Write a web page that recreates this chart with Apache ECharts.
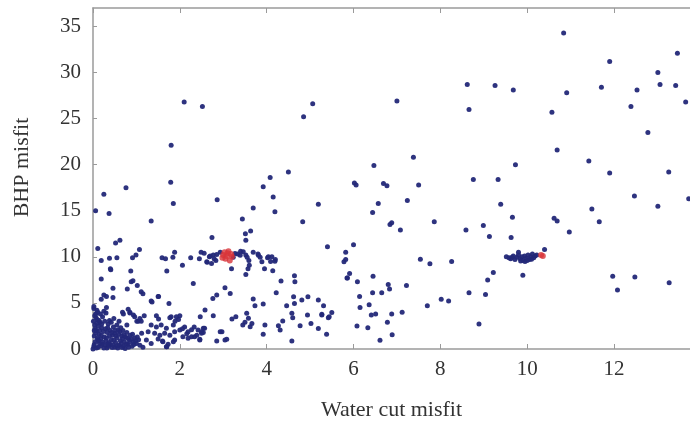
<!DOCTYPE html>
<html>
<head>
<meta charset="utf-8">
<script src="https://cdn.jsdelivr.net/npm/echarts@6/dist/echarts.min.js"></script>
<style>
  html, body { margin: 0; padding: 0; background: #fff; }
  #chart { width: 690px; height: 427px; }
</style>
</head>
<body>
<div id="chart"></div>
<script>
// water cut misfit / BHP misfit pairs
const denseCluster = [
  [0.02,0.3],[0.05,0.8],[0.03,1.4],[0.08,2.0],[0.04,2.6],[0.1,3.2],[0.06,3.8],[0.02,4.4],[0.12,0.2],[0.15,0.6],
  [0.18,1.1],[0.14,1.6],[0.2,2.3],[0.16,2.9],[0.22,3.5],[0.25,4.1],[0.28,0.4],[0.3,0.9],[0.26,1.3],[0.33,1.8],
  [0.29,2.2],[0.35,2.7],[0.38,3.1],[0.32,0.1],[0.4,0.5],[0.42,1.0],[0.45,1.5],[0.4,2.0],[0.47,2.4],[0.5,0.2],
  [0.52,0.7],[0.55,1.2],[0.5,1.7],[0.58,2.1],[0.6,0.4],[0.63,0.9],[0.66,1.4],[0.62,1.9],[0.7,0.3],[0.72,0.8],
  [0.75,1.3],[0.78,1.8],[0.8,0.5],[0.83,1.0],[0.86,1.5],[0.9,0.3],[0.93,0.8],[0.96,1.2],[1.0,0.6],[1.05,1.0],
  [0.08,0.1],[0.1,1.2],[0.12,2.5],[0.07,3.4],[0.18,0.35],[0.22,0.75],[0.24,1.9],[0.36,0.3],[0.38,1.45],[0.44,0.15],
  [0.48,0.95],[0.53,1.45],[0.57,0.1],[0.65,0.6],[0.68,1.1],[0.74,0.05],[0.77,0.55],[0.82,0.2],[0.88,1.1],[0.94,0.5],
  [0.15,2.0],[0.2,2.7],[0.27,3.0],[0.11,4.0],[0.3,3.9],[0.34,2.3],[0.42,2.9],[0.55,2.6],[0.6,3.0],[0.05,2.2],
  [0.01,3.0],[0.0,0.0],[0.03,0.5],[0.06,1.7],[0.09,2.8],[0.13,0.9],[0.19,1.5],[0.25,0.1],[0.31,1.2],[0.37,0.7],
  [0.43,1.8],[0.46,0.45],[0.51,2.0],[0.59,1.6],[0.64,2.3],[0.69,2.0],[0.71,1.55],[0.79,1.2],[0.85,0.75],[0.91,1.6],
  [0.98,0.9],[1.02,1.3],[1.08,0.4],[1.12,1.7],[1.15,0.2],
  [0.04,3.6],[0.09,4.2],[0.14,3.1],[0.17,3.8],[0.03,2.0],[0.11,1.0],[0.21,0.55],[0.34,0.55],[0.56,0.35],[0.67,0.15]
];

const lowLeft = [
  [0.02,4.6],[0.31,4.5],[0.19,5.4],[0.25,5.85],[0.31,5.7],[0.46,5.6],[0.46,6.6],[0.79,6.5],[0.19,7.6],[0.41,8.6],
  [0.87,8.45],[0.88,7.3],[0.92,7.4],[1.02,6.9],[1.11,6.2],[1.15,6.0],[1.70,8.45],[2.31,7.1],[1.50,5.7],[1.34,5.2],
  [1.75,4.95],[0.48,3.3],[0.68,4.0],[0.81,4.3],[0.85,3.9],[0.96,3.5],[1.04,3.0],[1.11,3.0],[1.18,3.6],[1.46,3.6],
  [1.51,3.25],[1.80,3.5],[2.0,3.6],[1.97,3.2],[1.89,3.0],[1.34,2.6],[1.46,2.4],[1.57,2.6],[1.69,2.25],[1.27,1.87],
  [1.42,1.7],[1.54,1.5],[1.65,1.7],[1.77,1.5],[1.88,1.87],[2.0,2.06],[2.11,2.4],[2.19,1.87],[2.33,2.4],[2.42,2.06],
  [2.50,1.87],[2.57,2.25],[1.23,0.98],[1.34,0.61],[1.50,1.08],[1.61,0.79],[1.73,0.51],[1.88,0.98],[2.07,1.33],[2.19,1.16],
  [2.34,1.33],[2.46,0.98],[1.69,0.25],[2.06,2.2],[2.16,1.66],[2.27,1.33],[2.39,1.5],[2.46,1.05],[2.27,2.1],[2.54,1.8],
  [1.77,3.4],[1.85,2.6],[1.92,3.5],[1.60,0.87],[1.70,0.25],[1.85,0.8],[0.93,3.7],[1.01,3.0],[1.08,3.3],[0.85,4.0],
  [0.70,3.8],[0.78,2.6],[1.36,5.1],[1.51,5.7]
];

const midBand = [
  [1.34,13.9],[3.44,14.1],[4.83,13.8],[3.51,12.5],[3.63,12.8],[2.74,12.1],[3.52,11.8],[0.11,10.9],[0.52,11.5],[0.62,11.8],
  [1.07,10.8],[5.40,11.1],[0.38,9.86],[0.55,9.9],[0.91,9.9],[0.99,10.2],[1.59,9.9],[1.67,9.8],[1.84,9.96],[1.88,10.5],
  [2.06,9.1],[2.25,9.9],[2.45,9.8],[2.49,10.5],[2.56,10.4],[2.63,9.4],[2.68,10.0],[2.77,10.2],[2.83,9.6],[2.93,10.5],
  [3.23,9.96],[3.33,10.3],[3.40,10.6],[3.52,10.2],[3.55,9.96],[3.59,9.6],[3.60,9.1],[3.57,8.7],[3.69,10.5],[3.80,10.3],
  [3.85,9.96],[4.02,9.9],[4.09,9.5],[4.12,10.0],[4.20,9.7],[3.95,8.7],[4.14,8.5],[3.19,8.7],[0.19,9.6],[0.40,8.7],
  [2.62,9.46],[2.73,9.28],[2.70,10.1],[2.79,9.8],[2.85,10.26],[3.27,10.37],[3.39,10.18],[3.46,10.54],[3.52,8.09],[3.81,10.18],
  [3.89,9.46],[4.04,10.0],[4.19,9.53],[4.33,7.37],[4.64,7.94],[4.65,7.3],[3.04,6.64],[3.16,6.03],[2.76,5.49],[2.85,5.85],
  [3.69,5.42],[3.73,4.69],[3.92,4.88],[4.22,6.1],[4.46,4.69],[4.62,5.67],[4.64,4.95],[4.81,5.31],[4.95,5.67],[5.19,5.31],
  [5.31,4.69],[5.50,3.97],[5.44,3.50],[5.27,3.68],[2.47,3.50],[2.58,4.23],[2.77,3.61],[3.20,3.25],[3.29,3.50],[3.54,3.87],
  [3.58,3.33],[3.50,2.89],[3.62,2.42],[3.45,2.60],[3.66,2.78],[3.96,2.60],[4.27,2.52],[4.37,3.03],[4.58,3.87],[4.60,3.39],
  [4.77,2.52],[4.94,3.68],[5.02,2.78],[5.19,2.23],[5.27,3.76],[5.42,3.39],[5.38,1.59],[4.58,0.87],[3.92,1.59],[4.31,2.06],
  [2.97,1.87],[3.04,0.98],[2.85,0.87],[2.54,2.24],[2.50,1.70],[3.08,1.07],[2.93,1.86],[5.82,10.5],[5.78,9.46],[5.82,9.7],
  [5.86,7.7],[5.85,7.7],[5.91,8.2]
];

const rightSide = [
  [6.00,11.3],[6.84,13.5],[6.88,13.7],[7.08,12.9],[7.86,13.8],[8.59,12.9],[8.99,13.4],[9.13,12.2],[9.63,12.1],[9.66,14.3],
  [10.62,14.2],[10.69,13.9],[10.97,12.7],[11.66,13.8],[7.54,9.75],[7.76,9.25],[8.26,9.5],[10.40,10.8],[9.80,10.5],
  [6.09,7.3],[6.45,7.9],[6.80,7.0],[6.83,6.5],[7.22,6.9],[6.14,5.7],[6.44,6.1],[6.65,6.1],[6.15,4.5],[6.36,4.8],
  [6.41,3.7],[6.51,3.8],[6.88,3.8],[7.12,4.0],[7.70,4.7],[8.02,5.4],[8.19,5.2],[8.66,6.1],[9.04,5.9],[9.09,7.5],
  [9.22,8.3],[9.90,8.0],[6.08,2.5],[6.33,2.3],[6.78,2.9],[6.89,1.55],[6.61,0.94],[8.89,2.7],[11.97,7.9],[12.08,6.4],
  [12.48,7.8],[13.27,7.2]
];

const upperScatter = [
  [2.10,26.8],[2.52,26.3],[1.80,22.1],[1.79,18.1],[1.85,15.8],[0.25,16.8],[0.76,17.5],[2.86,16.2],[4.85,25.2],[5.06,26.6],
  [4.08,18.6],[4.50,19.2],[3.92,17.6],[4.15,16.5],[3.69,15.3],[4.19,14.9],[5.19,15.7],[0.06,15.0],[0.37,14.7],
  [7.00,26.9],[6.47,19.9],[7.38,20.8],[6.02,18.0],[6.06,17.8],[6.69,17.95],[6.77,17.7],[7.50,17.8],[6.57,15.8],[7.24,16.1],
  [6.44,14.8],[8.62,28.7],[9.26,28.6],[9.68,28.1],[8.66,26.0],[9.73,20.0],[8.76,18.4],[9.33,18.4],[9.39,15.7],[10.84,34.3],
  [10.91,27.8],[10.57,25.7],[10.69,21.6],[11.42,20.4],[11.90,19.1],[11.49,15.2],[11.90,31.2],[11.71,28.4],[12.53,28.1],[12.39,26.3],
  [12.78,23.5],[13.01,30.0],[13.06,28.7],[13.42,28.6],[13.46,32.1],[13.65,26.8],[13.26,19.2],[12.47,16.6],[13.01,15.5],[13.72,16.3]
];

const cluster10 = [
  [9.52,10.0],[9.58,9.9],[9.62,9.8],[9.68,10.1],[9.72,9.7],[9.76,9.95],[9.8,10.2],[9.84,9.8],[9.88,10.0],[9.9,9.6],
  [9.94,10.1],[9.98,9.85],[10.02,10.2],[10.05,9.7],[10.08,10.0],[10.12,10.3],[10.15,9.9],[10.18,10.1],[10.22,10.2],[9.95,9.5],
  [10.0,9.6],[9.85,9.55],[10.1,9.75],[9.65,9.95]
];

const redPoints = [
  [3.0,10.2],[3.05,9.8],[3.1,10.4],[3.15,9.6],[3.2,10.0],[2.98,9.9],[3.08,10.1],[3.12,10.6],[3.18,10.3],[3.03,10.5],
  [10.32,10.2],[10.36,10.1]
];

const xTickStep = 2;
const yTickStep = 5;

const chart = echarts.init(document.getElementById('chart'));
const serif = 'Liberation Serif';
const axisGrey = '#9a9a9a';
const dotBlue = '#232878';

const bluePoints = denseCluster.concat(lowLeft, midBand, rightSide, upperScatter, cluster10);

chart.setOption({
  animation: false,
  backgroundColor: '#fff',
  grid: { left: 93, right: 0, top: 8, bottom: 78, containLabel: false },
  xAxis: [
    {
      type: 'value',
      min: 0,
      max: 13.75,
      interval: xTickStep,
      name: 'Water cut misfit',
      nameLocation: 'middle',
      nameGap: 50,
      nameTextStyle: { fontFamily: serif, fontSize: 22, color: '#333' },
      axisLine: { lineStyle: { color: axisGrey, width: 1.5 } },
      axisTick: { inside: true, length: 5, lineStyle: { color: axisGrey } },
      axisLabel: { fontFamily: serif, fontSize: 21, color: '#333', margin: 10, showMaxLabel: false },
      splitLine: { show: false }
    },
    {
      type: 'value',
      position: 'top',
      min: 0,
      max: 13.75,
      interval: xTickStep,
      axisLine: { lineStyle: { color: axisGrey, width: 1.5 } },
      axisTick: { inside: true, length: 5, lineStyle: { color: axisGrey } },
      axisLabel: { show: false },
      splitLine: { show: false }
    }
  ],
  yAxis: {
    type: 'value',
    min: 0,
    max: 37,
    interval: yTickStep,
    name: 'BHP misfit',
    nameLocation: 'middle',
    nameGap: 60,
    nameTextStyle: { fontFamily: serif, fontSize: 22, color: '#333', padding: [0, 0, 0, 22] },
    axisLine: { show: true, lineStyle: { color: axisGrey, width: 1.5 } },
    axisTick: { show: true, inside: true, length: 4, lineStyle: { color: axisGrey } },
    axisLabel: { fontFamily: serif, fontSize: 21, color: '#333', margin: 12, showMaxLabel: false },
    splitLine: { show: false }
  },
  series: [
    {
      type: 'scatter',
      data: bluePoints,
      symbolSize: 5,
      itemStyle: { color: dotBlue, opacity: 0.95 }
    },
    {
      type: 'scatter',
      data: redPoints,
      symbolSize: 6,
      itemStyle: { color: '#d8343a' }
    }
  ]
});
</script>
</body>
</html>
